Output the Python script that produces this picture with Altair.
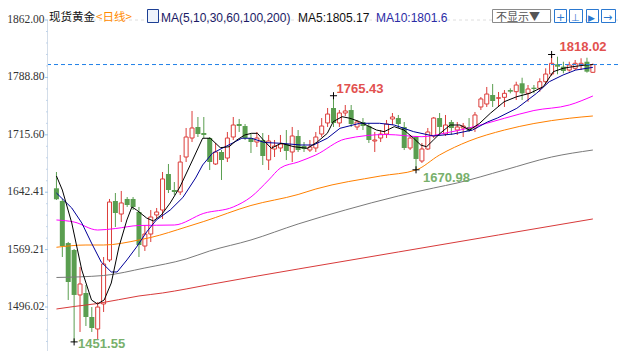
import altair as alt
import pandas as pd

# ---------------- data ----------------
idx = list(range(1, 93))
opens = [1647.4, 1631.2, 1577.6, 1568.7, 1511.4, 1513.9, 1483.3, 1468.0, 1499.9, 1556.0,
         1631.2, 1614.6, 1633.8, 1633.8, 1617.2, 1573.8, 1589.1, 1613.4, 1619.7, 1665.6,
         1645.2, 1642.7, 1687.3, 1711.5, 1725.6, 1717.9, 1711.5, 1678.4, 1693.7, 1686.0,
         1712.8, 1729.4, 1726.8, 1711.5, 1706.4, 1709.0, 1683.5, 1697.5, 1698.8, 1703.9,
         1693.7, 1714.1, 1701.3, 1696.2, 1698.8, 1716.6, 1730.7, 1749.8, 1730.7, 1743.4,
         1747.2, 1725.6, 1731.9, 1726.8, 1707.7, 1711.5, 1716.6, 1735.8, 1737.0, 1725.6,
         1698.8, 1712.8, 1682.2, 1697.5, 1714.1, 1737.0, 1716.6, 1731.9, 1721.7, 1724.3,
         1725.6, 1724.3, 1751.1, 1754.9, 1766.4, 1762.2, 1763.4, 1772.7, 1770.6, 1781.3,
         1768.5, 1775.7, 1774.9, 1783.3, 1793.1, 1805.5, 1802.5, 1798.2, 1800.4, 1804.6,
         1808.8, 1795.3]
closes = [1633.4, 1573.8, 1527.9, 1511.4, 1525.4, 1483.3, 1469.3, 1496.0, 1550.9, 1629.9,
          1615.9, 1628.7, 1626.1, 1623.6, 1575.1, 1589.1, 1610.8, 1617.2, 1659.3, 1645.2,
          1642.7, 1680.9, 1712.8, 1724.3, 1716.6, 1715.4, 1680.9, 1693.7, 1683.5, 1711.5,
          1728.1, 1726.8, 1711.5, 1706.4, 1711.5, 1688.6, 1707.7, 1701.3, 1703.9, 1695.0,
          1714.1, 1696.2, 1697.5, 1700.1, 1712.8, 1726.8, 1742.1, 1730.7, 1743.4, 1746.0,
          1729.4, 1731.9, 1726.8, 1709.0, 1709.0, 1716.6, 1729.4, 1738.3, 1729.4, 1698.8,
          1711.5, 1684.8, 1697.5, 1719.2, 1737.0, 1725.6, 1728.1, 1724.3, 1725.6, 1726.8,
          1720.5, 1740.9, 1761.3, 1767.6, 1758.7, 1762.9, 1768.5, 1770.6, 1779.1, 1768.5,
          1774.0, 1774.0, 1783.3, 1793.1, 1806.8, 1802.5, 1797.0, 1804.6, 1806.8, 1806.8,
          1796.1, 1805.2]
highs = [1668.2, 1633.8, 1579.0, 1570.0, 1547.1, 1524.1, 1496.0, 1502.4, 1559.8, 1633.8,
         1641.4, 1644.0, 1636.3, 1636.3, 1623.6, 1600.6, 1619.7, 1622.3, 1668.2, 1678.4,
         1655.4, 1689.9, 1724.3, 1746.0, 1738.3, 1738.3, 1712.8, 1705.2, 1696.2, 1719.2,
         1738.3, 1735.8, 1729.4, 1717.9, 1719.2, 1717.9, 1715.4, 1709.0, 1715.4, 1721.7,
         1725.6, 1721.7, 1706.4, 1709.0, 1719.2, 1737.0, 1749.8, 1765.43, 1747.2, 1753.6,
         1753.6, 1734.5, 1737.0, 1730.7, 1719.2, 1721.7, 1734.5, 1743.4, 1740.9, 1731.9,
         1715.4, 1714.1, 1705.2, 1724.3, 1738.3, 1743.4, 1740.9, 1734.5, 1731.9, 1730.7,
         1737.0, 1744.7, 1763.8, 1776.6, 1780.4, 1770.2, 1772.7, 1774.9, 1783.3, 1788.4,
         1779.1, 1779.1, 1787.7, 1800.4, 1818.02, 1815.2, 1808.8, 1808.8, 1811.0, 1813.2,
         1813.9, 1806.5]
lows = [1632.5, 1559.8, 1505.0, 1451.55, 1464.2, 1471.8, 1464.2, 1455.2, 1489.7, 1553.4,
        1598.0, 1604.4, 1623.6, 1619.7, 1559.8, 1567.5, 1578.9, 1609.5, 1608.3, 1641.4,
        1638.9, 1638.9, 1680.9, 1706.4, 1712.8, 1711.5, 1670.7, 1677.1, 1658.0, 1680.9,
        1709.0, 1719.2, 1709.0, 1692.4, 1700.1, 1677.1, 1670.7, 1687.3, 1693.7, 1683.5,
        1680.9, 1693.7, 1693.7, 1693.7, 1693.7, 1712.8, 1725.6, 1725.6, 1725.6, 1739.6,
        1725.6, 1721.7, 1721.7, 1705.2, 1693.7, 1706.4, 1711.5, 1728.1, 1724.3, 1696.2,
        1696.2, 1670.98, 1679.7, 1696.2, 1711.5, 1715.4, 1714.1, 1715.4, 1715.4, 1712.8,
        1719.2, 1719.2, 1747.2, 1751.1, 1751.1, 1751.1, 1751.1, 1768.5, 1760.0, 1760.0,
        1757.8, 1768.5, 1770.6, 1780.0, 1791.0, 1792.8, 1794.0, 1796.1, 1798.2, 1798.2,
        1794.8, 1794.4]

ma5_i = [1, 2, 3.6, 5.3, 6.95, 7.95, 9.1, 10.3, 11.6, 12.95, 13.8, 14.6, 16.3, 17.45, 18.8,
         20.3, 21.95, 24.1, 25.8, 27.1, 28.8, 30.3, 31.6, 32.95, 34.1, 35.1, 36.1, 37.45, 39.1,
         41.3, 43.6, 45.3, 46.95, 47.95, 49.45, 50.8, 52.45, 54.1, 55.3, 56.6, 58.3, 59.95,
         61.6, 62.8, 63.8, 64.95, 66.1, 67.8, 69.45, 71.1, 72.8, 74.6, 76.95, 79.1, 81.3, 83.6,
         85.3, 86.95, 88.6, 90.8, 92]
ma5_v = [1663.1, 1645.2, 1603.2, 1543.2, 1505.0, 1499.9, 1505.0, 1526.6, 1572.6, 1607.0,
         1623.6, 1619.7, 1609.5, 1605.7, 1613.4, 1628.7, 1649.1, 1683.5, 1711.2, 1711.2,
         1699.2, 1700.4, 1709.0, 1715.4, 1717.5, 1717.5, 1709.0, 1698.4, 1704.8, 1700.4,
         1698.4, 1706.8, 1717.5, 1732.3, 1738.7, 1736.7, 1732.3, 1726.0, 1721.7, 1719.6,
         1726.0, 1721.7, 1711.2, 1702.6, 1700.4, 1709.0, 1717.5, 1728.1, 1728.1, 1721.7,
         1730.3, 1743.0, 1757.8, 1764.2, 1768.5, 1777.0, 1796.1, 1800.4, 1802.5, 1804.6,
         1805.17]
ma10_i = [1, 3.6, 5.3, 6.95, 8.6, 10.3, 11.3, 12.95, 14.6, 16.3, 17.95, 20.3, 22.45, 24.6,
          25.8, 27.45, 29.1, 30.8, 32.45, 34.1, 36.3, 39.1, 42.45, 44.6, 46.95, 49.1, 52.45,
          55.8, 58.3, 61.6, 64.95, 68.3, 71.6, 74.1, 75.8, 79.1, 82.45, 84.6, 86.95, 89.1, 92]
ma10_v = [1641.4, 1622.3, 1603.2, 1577.6, 1553.4, 1540.7, 1540.7, 1556.0, 1572.6, 1591.7,
          1607.0, 1619.7, 1635.7, 1660.5, 1677.1, 1692.0, 1698.4, 1704.8, 1711.2, 1711.2,
          1705.8, 1704.8, 1702.6, 1702.6, 1711.2, 1723.9, 1730.3, 1730.3, 1728.1, 1719.6,
          1714.1, 1716.6, 1721.7, 1731.9, 1737.0, 1749.4, 1768.5, 1783.3, 1791.9, 1798.2,
          1801.6]
ma30_i = [1, 4, 8, 11, 15, 21, 26, 31, 34, 37, 39, 42, 45, 50, 57, 63, 67, 71, 77, 82, 88, 92]
ma30_v = [1607.0, 1604.4, 1594.2, 1596.1, 1600.0, 1600.6, 1615.5, 1623.6, 1636.3, 1658.0,
          1673.3, 1680.9, 1689.9, 1710.3, 1716.0, 1713.2, 1717.9, 1724.3, 1736.7, 1746.6,
          1753.6, 1765.1]
ma60_i = [1, 6, 9, 15, 17, 23, 26, 34, 42, 45, 56, 62, 66, 71, 77, 82, 88, 92]
ma60_v = [1572.2, 1575.1, 1575.1, 1581.5, 1584.7, 1598.0, 1605.1, 1625.5, 1639.5, 1646.5,
          1663.1, 1670.7, 1689.9, 1707.7, 1721.7, 1730.0, 1736.7, 1739.6]
ma100_i = [1, 9, 16, 23, 27, 34, 42, 50, 59, 65, 69, 77, 85, 92]
ma100_v = [1533.7, 1536.2, 1545.8, 1557.3, 1567.5, 1581.5, 1601.9, 1619.7, 1637.6, 1647.8,
           1654.2, 1670.7, 1687.3, 1696.2]
ma200_i = [1, 4, 8, 15, 19, 23, 27, 42, 59, 76, 92]
ma200_v = [1493.5, 1496.7, 1500.5, 1510.1, 1513.9, 1519.0, 1524.7, 1544.5, 1566.2, 1587.9,
           1608.3]

axis_values = [1496.02, 1569.21, 1642.41, 1715.60, 1788.80, 1862.00]
extreme_i = [48, 85, 62, 4]
extreme_p = [1765.43, 1818.02, 1670.98, 1451.55]
extreme_kind = ["high", "high", "low", "low"]

title_name = "现货黄金"
title_period = "<日线>"
ma_title = "MA(5,10,30,60,100,200)"
ma5_text = "MA5:1805.17"
ma10_text = "MA10:1801.6"
last_price = closes[-1]

# ---------------- styles ----------------
RED = "#dc3d3a"
GREEN = "#5a9e50"
HI_TXT = "#e2514f"
LO_TXT = "#78b06c"
W, H = 570, 331          # plot area; chart = 610 x 343 incl. padding
PX_PER_BAR = 6.0
PRICE_PER_PX = 1.2751
Y_TOP = 1862.0
HDR_Y = -2.5

df = pd.DataFrame({"i": idx, "o": opens, "h": highs, "l": lows, "c": closes})
df["dir"] = ["up" if c >= o else "down" for o, c in zip(opens, closes)]

xs = alt.Scale(domain=[1 - 3.5 / PX_PER_BAR, 1 + (W - 3.5) / PX_PER_BAR], nice=False, zero=False)
ys = alt.Scale(domain=[Y_TOP - H * PRICE_PER_PX, Y_TOP], nice=False, zero=False)
X = alt.X("i:Q", scale=xs, axis=None)

one = pd.DataFrame({"a": [0]})

# --- hand-built y axis (labels, major/minor ticks, domain line) ---
ax_df = pd.DataFrame({"v": axis_values, "t": [f"{v:.2f}" for v in axis_values]})
step = (axis_values[1] - axis_values[0]) / 5
minor = [axis_values[0] + k * step for k in range(-4, 26) if k % 5 != 0]
minor = [m for m in minor if Y_TOP - H * PRICE_PER_PX < m < Y_TOP]
minor_df = pd.DataFrame({"v": minor})

ax_labels = alt.Chart(ax_df).mark_text(align="right", baseline="middle",
                                       font="Liberation Sans Narrow", fontSize=11.5,
                                       color="#333333").encode(
    x=alt.value(-3.5), y=alt.Y("v:Q", scale=ys, axis=None), text="t:N")
ax_ticks = alt.Chart(ax_df).mark_rule(color="#9cc3e6", strokeWidth=1).encode(
    x=alt.value(-3), x2=alt.value(0), y=alt.Y("v:Q", scale=ys, axis=None))
ax_minor = alt.Chart(minor_df).mark_rule(color="#c3d5ea", strokeWidth=1).encode(
    x=alt.value(-2), x2=alt.value(0), y=alt.Y("v:Q", scale=ys, axis=None))
ax_domain = alt.Chart(one).mark_rule(color="#d3dde9", strokeWidth=1).encode(
    x=alt.value(-0.5), y=alt.value(0), y2=alt.value(H))

grid_top = alt.Chart(one).mark_rule(color="#dedede", strokeDash=[3, 3], strokeWidth=1).encode(
    y=alt.Y(datum=Y_TOP, scale=ys, axis=None))

wicks = alt.Chart(df).mark_rule(strokeWidth=1).encode(
    x=X, y=alt.Y("l:Q", scale=ys, axis=None), y2="h:Q",
    color=alt.Color("dir:N", scale=alt.Scale(domain=["up", "down"], range=[RED, GREEN]), legend=None))

bodies_up = alt.Chart(df).transform_filter("datum.c >= datum.o").mark_bar(
    size=4, fill="white", stroke=RED, strokeWidth=1).encode(
    x=X, y=alt.Y("o:Q", scale=ys, axis=None), y2="c:Q")

bodies_dn = alt.Chart(df).transform_filter("datum.c < datum.o").mark_bar(
    size=5, color=GREEN).encode(
    x=X, y=alt.Y("o:Q", scale=ys, axis=None), y2="c:Q")


def ma_layer(ii, vv, color, interp="linear"):
    d = pd.DataFrame({"i": ii, "v": vv})
    return alt.Chart(d).mark_line(color=color, strokeWidth=1, interpolate=interp).encode(
        x=X, y=alt.Y("v:Q", scale=ys, axis=None), order="i:Q")


mas = [
    ma_layer(ma200_i, ma200_v, "#d83a3a", "monotone"),
    ma_layer(ma100_i, ma100_v, "#7a7a7a", "monotone"),
    ma_layer(ma60_i, ma60_v, "#ff8000", "monotone"),
    ma_layer(ma30_i, ma30_v, "#ff00ff", "monotone"),
    ma_layer(ma10_i, ma10_v, "#000099"),
    ma_layer(ma5_i, ma5_v, "#000000"),
]

last_line = alt.Chart(one).mark_rule(color="#1f80e8", strokeDash=[4, 3], strokeWidth=1).encode(
    y=alt.Y(datum=last_price, scale=ys, axis=None))

ext = pd.DataFrame({"i": extreme_i, "p": extreme_p, "k": extreme_kind,
                    "t": [f"{p:.2f}" for p in extreme_p]})
crosses = alt.Chart(ext).mark_point(shape="M-1,0L1,0M0,-1L0,1", size=50, filled=False,
                                    color="#000000", strokeWidth=1, opacity=1).encode(
    x=X, y=alt.Y("p:Q", scale=ys, axis=None))

label_dx = [3, 8, 7, 4]
label_dy = [-7, -7, 8, 2]
ext_labels = []
for k in range(len(extreme_i)):
    one_ext = ext.iloc[[k]]
    col = HI_TXT if extreme_kind[k] == "high" else LO_TXT
    ext_labels.append(alt.Chart(one_ext).mark_text(
        align="left", baseline="middle", dx=label_dx[k], dy=label_dy[k],
        font="Liberation Sans", fontSize=13, fontWeight="bold", color=col).encode(
        x=X, y=alt.Y("p:Q", scale=ys, axis=None), text="t:N"))


def htext(txt, x, color, font="Noto Sans CJK SC", size=11):
    return alt.Chart(one).mark_text(text=txt, align="left", baseline="middle", font=font,
                                    fontSize=size, color=color).encode(
        x=alt.value(x), y=alt.value(HDR_Y))


def hrect(x1, x2, stroke, fill):
    return alt.Chart(one).mark_rect(stroke=stroke, fill=fill, strokeWidth=1).encode(
        x=alt.value(x1), x2=alt.value(x2), y=alt.value(-10.5), y2=alt.value(2.5))


header = [
    htext(title_name, 1, "#111111", size=11.5),
    htext(title_period, 48, "#ff8a00", size=11.5),
    hrect(99.5, 110.5, "#1c3f94", "#eef3fb"),
    htext(ma_title, 113, "#1a1a66", "Liberation Sans", 12),
    htext(ma5_text, 250, "#111111", "Liberation Sans", 12),
    htext(ma10_text, 328, "#2b2ba6", "Liberation Sans", 12),
    hrect(444.5, 502.5, "#8a8a8a", "#ffffff"),
    htext("不显示▼", 448, "#555555"),
    hrect(506.5, 518.5, "#2a78d0", "#ffffff"),
    hrect(521.5, 534.5, "#2a78d0", "#ffffff"),
    hrect(538.5, 550.5, "#2a78d0", "#ffffff"),
    hrect(553.5, 567.5, "#2a78d0", "#ffffff"),
    htext("+", 508, "#2a78d0", "DejaVu Sans", 11),
    htext("⊥", 523, "#2a78d0", "DejaVu Sans", 10),
    htext("▶", 540, "#2a78d0", "DejaVu Sans", 9),
    htext("→", 555, "#2a78d0", "DejaVu Sans", 11),
]

chart = alt.layer(grid_top, ax_domain, ax_minor, ax_ticks, ax_labels, wicks, bodies_up,
                  bodies_dn, *mas, last_line, crosses, *ext_labels, *header).properties(
    width=W, height=H,
    autosize=alt.AutoSizeParams(type="none"),
    padding={"left": 40, "top": 12, "right": 0, "bottom": 0},
    background="white",
).configure_view(stroke=None)

chart.save("out.html", embed_options={"renderer": "svg", "actions": False})
